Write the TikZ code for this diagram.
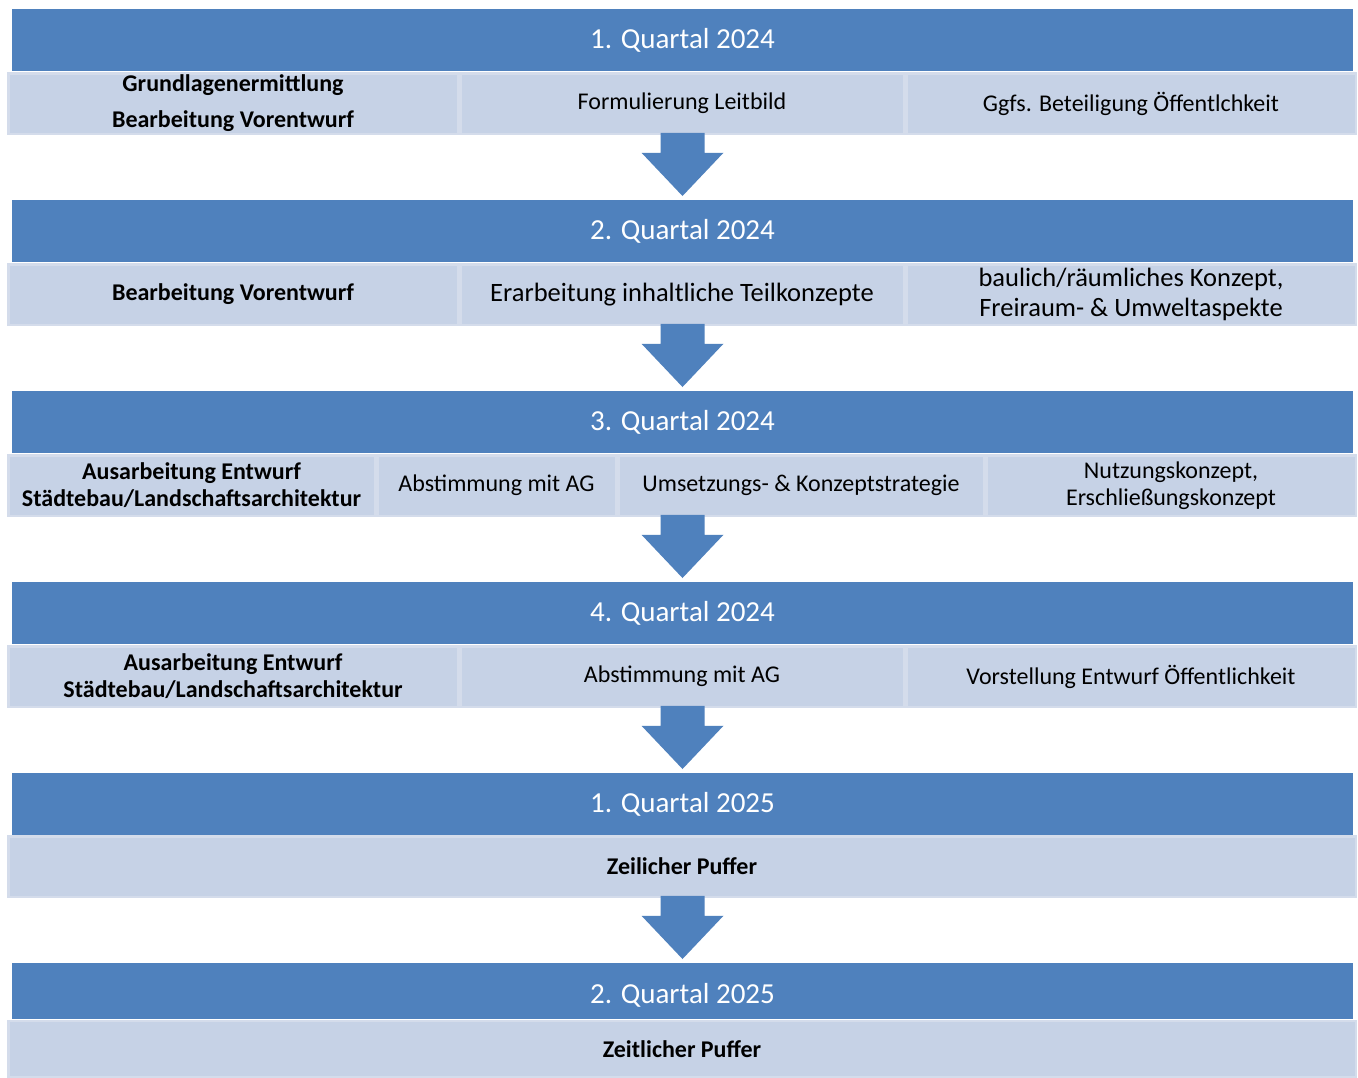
\documentclass[tikz,border=0pt]{standalone}
\usepackage{fontspec}
\setmainfont{Carlito}
\usetikzlibrary{calc}
\definecolor{hblue}{HTML}{4F81BD}
\definecolor{cblue}{HTML}{C6D2E6}
\definecolor{cedge}{HTML}{D4DCEB}
\begin{document}
\begin{tikzpicture}[x=1pt,y=-1pt,
  qhead/.style={fill=hblue, text=white, minimum width=1341pt, minimum height=62pt, inner sep=0pt, outer sep=0pt, font=\fontsize{29}{34}\selectfont},
  cell/.style={fill=cblue, draw=cedge, line width=2.5pt, minimum height=60.5pt, inner sep=0pt, outer sep=0pt, align=center, font=\fontsize{24}{27}\selectfont},
  bigcell/.style={cell, font=\fontsize{26.5}{30}\selectfont},
  bcell/.style={cell, font=\bfseries\fontsize{24}{27}\selectfont},
  arr/.style={fill=hblue}
]
\useasboundingbox (0,0) rectangle (1358,1077);
\fill[white] (0,0) rectangle (1358,1077);

% Row 1
\node[qhead] (h1) at (682.5,40) {1. Quartal 2024};
\node[bcell, minimum width=449.5pt, font=\bfseries\fontsize{24}{36}\selectfont] (c11) at (233,103.5) {Grundlagenermittlung\\Bearbeitung Vorentwurf};
\node[cell, minimum width=443.5pt] (c12) at (682,103.5) {Formulierung Leitbild};
\node[cell, minimum width=449.5pt] (c13) at (1131,103.5) {Ggfs. Beteiligung Öffentlchkeit};

% Row 2
\node[qhead] (h2) at (682.5,231) {2. Quartal 2024};
\node[bcell, minimum width=449.5pt] (c21) at (233,294.5) {Bearbeitung Vorentwurf};
\node[bigcell, minimum width=443.5pt] (c22) at (682,294.5) {Erarbeitung inhaltliche Teilkonzepte};
\node[bigcell, minimum width=449.5pt] (c23) at (1131,294.5) {baulich/räumliches Konzept,\\Freiraum- \& Umweltaspekte};

% Row 3
\node[qhead] (h3) at (682.5,422) {3. Quartal 2024};
\node[bcell, minimum width=366.5pt] (c31) at (191.5,485.5) {Ausarbeitung Entwurf\\Städtebau/Landschaftsarchitektur};
\node[cell, minimum width=238.5pt] (c32) at (496.5,485.5) {Abstimmung mit AG};
\node[cell, minimum width=365.5pt] (c33) at (801,485.5) {Umsetzungs- \& Konzeptstrategie};
\node[cell, minimum width=369.5pt] (c34) at (1171,485.5) {Nutzungskonzept,\\Erschließungskonzept};

% Row 4
\node[qhead] (h4) at (682.5,613) {4. Quartal 2024};
\node[bcell, minimum width=449.5pt] (c41) at (233,676.5) {Ausarbeitung Entwurf\\Städtebau/Landschaftsarchitektur};
\node[cell, minimum width=443.5pt] (c42) at (682,676.5) {Abstimmung mit AG};
\node[cell, minimum width=449.5pt] (c43) at (1131,676.5) {Vorstellung Entwurf Öffentlichkeit};

% Row 5
\node[qhead] (h5) at (682.5,804) {1. Quartal 2025};
\node[bcell, minimum width=1347.5pt] (c51) at (682,866.5) {Zeilicher Puffer};

% Row 6
\node[qhead, minimum height=56pt] (h6) at (682.5,991) {\raisebox{-4pt}[\height][\depth]{2. Quartal 2025}};
\node[bcell, minimum width=1347.5pt, minimum height=56pt] (c61) at (682,1049) {Zeitlicher Puffer};

% Arrows
\foreach \s/\t in {c12/h2, c22/h3, c33/h4, c42/h5, c51/h6}{
  \fill[arr] ($(\t.north |- \s.south)+(-22,-1)$) -- ($(\t.north |- \s.south)+(22,-1)$)
    -- ($(\t.north |- \s.south)+(22,19)$) -- ($(\t.north |- \s.south)+(41,19)$)
    -- ($(\t.north)+(0,-4)$)
    -- ($(\t.north |- \s.south)+(-41,19)$) -- ($(\t.north |- \s.south)+(-22,19)$) -- cycle;
}
\end{tikzpicture}
\end{document}
